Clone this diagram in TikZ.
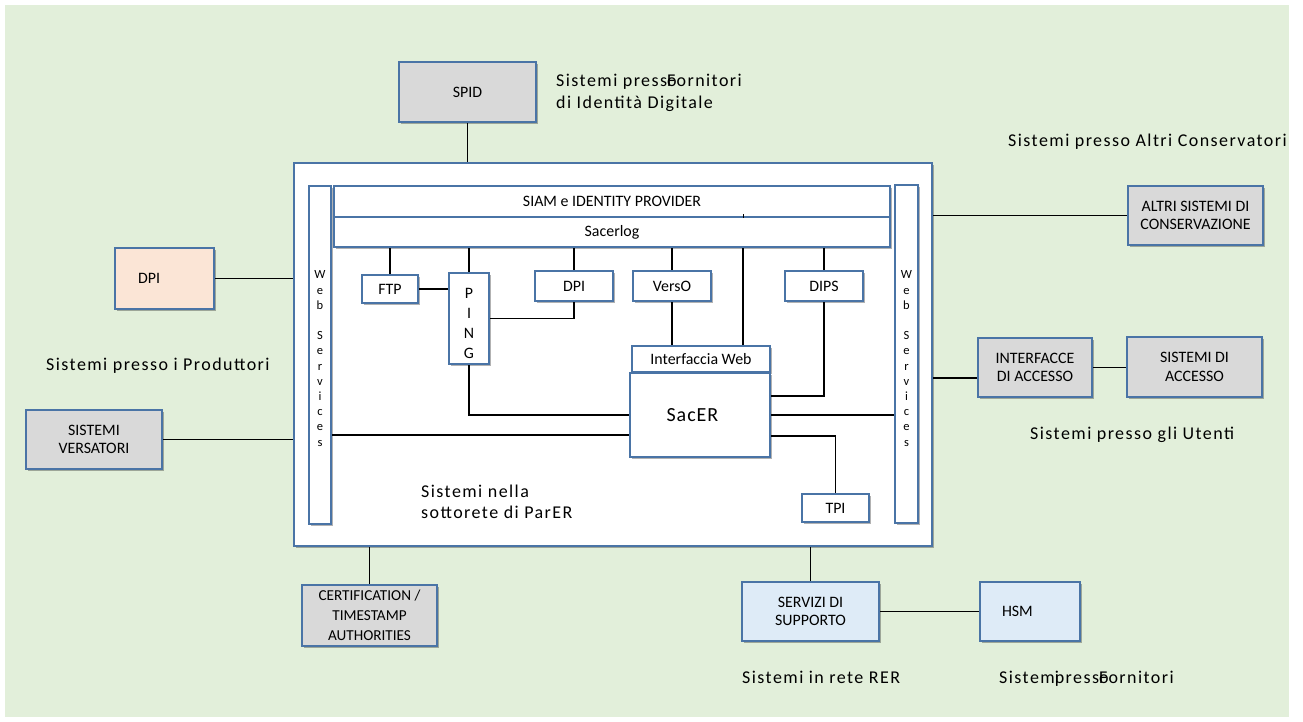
\documentclass[tikz,border=0pt]{standalone}
\usepackage{fontspec}
\setmainfont{Carlito}
\newfontfamily\trackfont[LetterSpace=8]{Carlito}
\newfontfamily\sacerfont[LetterSpace=5]{Carlito}
\usetikzlibrary{shadows,calc}
\definecolor{bggreen}{HTML}{E2EFDA}
\definecolor{bordblue}{HTML}{4A74A6}
\definecolor{boxgray}{HTML}{D9D9D9}
\definecolor{boxpeach}{HTML}{FBE5D6}
\definecolor{boxblue}{HTML}{DEEBF7}
\pgfdeclarelayer{bglayer}
\pgfdeclarelayer{linelayer}
\pgfsetlayers{bglayer,linelayer,main}
\begin{document}
\begin{tikzpicture}[x=1pt,y=-1pt,
  box/.style={draw=bordblue, line width=1.9pt, fill=white, inner sep=0pt, align=center,
    font=\fontsize{15.9}{18.5}\selectfont,
    drop shadow={shadow xshift=2pt, shadow yshift=-2.2pt, opacity=0.3, fill=black}},
  conn/.style={draw=black, line width=1.5pt},
  lbl/.style={anchor=base west, inner sep=0pt, font=\trackfont\fontsize{18}{21.5}\selectfont},
  stack/.style={inner sep=0pt, align=center}
]
\useasboundingbox (0,0) rectangle (1303,722);
\begin{pgfonlayer}{bglayer}
\fill[white] (0,0) rectangle (1303,722);
\fill[bggreen] (5,5) rectangle (1289,717);
\node[box, minimum width=638pt, minimum height=383pt] (main) at (613,354.5) {};
\end{pgfonlayer}

% inner boxes
\node[box, minimum width=22pt, minimum height=338pt] (wsl) at (320,355) {};
\node[box, minimum width=23pt, minimum height=338pt] (wsr) at (906.5,354) {};
\node[stack, font=\fontsize{12.5}{15.2}\selectfont] (wsltxt) at (320,358.5) {W\\e\\b\\[15.2pt]S\\e\\r\\v\\i\\c\\e\\s};
\node[stack, font=\fontsize{12.5}{15.2}\selectfont] (wsrtxt) at (906.5,358.5) {W\\e\\b\\[15.2pt]S\\e\\r\\v\\i\\c\\e\\s};
\node[box, minimum width=556pt, minimum height=31pt] (siam) at (612,201.5) {SIAM e IDENTITY PROVIDER};
\node[box, minimum width=556pt, minimum height=30pt] (sacerlog) at (612,232) {Sacerlog};
\node[box, minimum width=56pt, minimum height=28pt] (ftp) at (390,289) {FTP};
\node[box, minimum width=40pt, minimum height=91pt] (ping) at (469,318.5) {};
\node[stack, font=\fontsize{15.9}{19.7}\selectfont] (pingtxt) at (469,323.5) {P\\I\\N\\G};
\node[box, minimum width=78pt, minimum height=30pt] (dpiin) at (574,286) {DPI};
\node[box, minimum width=78pt, minimum height=30pt] (verso) at (672,286) {VersO};
\node[box, minimum width=78pt, minimum height=30pt] (dips) at (824,286) {DIPS};
\node[box, minimum width=138pt, minimum height=26pt] (iweb) at (701,359) {Interfaccia Web};
\node[box, minimum width=140pt, minimum height=84pt, font=\sacerfont\fontsize{20}{24}\selectfont] (sacer) at (700,415) {\makebox[67pt][l]{SacER}};
\node[box, minimum width=67pt, minimum height=28pt] (tpi) at (835.5,508) {TPI};

% outer boxes
\node[box, fill=boxgray, minimum width=137pt, minimum height=60pt] (spid) at (467.5,92) {SPID};
\node[box, fill=boxpeach, minimum width=99pt, minimum height=61pt] (dpiout) at (164.5,278.5) {\makebox[53pt][l]{DPI}};
\node[box, fill=boxgray, minimum width=136pt, minimum height=59pt] (vers) at (94,439.5) {SISTEMI\\VERSATORI};
\node[box, fill=boxgray, minimum width=135pt, minimum height=59pt] (altri) at (1195.5,215.5) {ALTRI SISTEMI DI\\CONSERVAZIONE};
\node[box, fill=boxgray, minimum width=114pt, minimum height=59pt] (interf) at (1035,367.5) {INTERFACCE\\DI ACCESSO};
\node[box, fill=boxgray, minimum width=135pt, minimum height=60pt] (sacc) at (1194.5,367) {SISTEMI DI\\ACCESSO};
\node[box, fill=boxgray, minimum width=135pt, minimum height=61pt, font=\fontsize{15.2}{20}\selectfont] (cert) at (369.5,615.5) {CERTIFICATION /\\TIMESTAMP\\AUTHORITIES};
\node[box, fill=boxblue, minimum width=137pt, minimum height=59pt] (serv) at (810.5,611.5) {SERVIZI DI\\SUPPORTO};
\node[box, fill=boxblue, minimum width=100pt, minimum height=59pt] (hsm) at (1030,611.5) {\makebox[56pt][l]{HSM}};

% labels
\node[lbl] (lspid) at (556,87) {\begin{tabular}[t]{@{}l@{}}Sistemi press\rlap{o}Fornitori\\di Identità Digitale\end{tabular}};
\node[lbl] (laltri) at (1008,147) {Sistemi presso Altri Conservatori};
\node[lbl] (lprod) at (46,370) {Sistemi presso i Produttori};
\node[lbl] (luten) at (1030,439) {Sistemi presso gli Utenti};
\node[lbl] (lparer) at (421,497) {\begin{tabular}[t]{@{}l@{}}Sistemi nella\\sottorete di ParER\end{tabular}};
\node[lbl] (lrer) at (742,683) {Sistemi in rete RER};
\node[lbl] (lforn) at (999,683) {Sistem\rlap{i}press\rlap{o}Fornitori};

% connectors
\coordinate (iw) at ([xshift=42pt]iweb.north);
\coordinate (ia) at ([yshift=-10.5pt]interf.west);
\coordinate (sw2) at ([yshift=-20pt]sacer.west);
\coordinate (se1) at ([yshift=19pt]sacer.east);
\coordinate (se3) at ([yshift=-21pt]sacer.east);
\begin{pgfonlayer}{linelayer}
\draw[conn] (spid.south) -- (spid.south |- main.north);
\draw[conn] (dpiout.east) -- (dpiout.east -| main.west);
\draw[conn] (vers.east) -- (vers.east -| main.west);
\draw[conn] (altri.west) -- (altri.west -| main.east);
\draw[conn] (ia) -- (ia -| main.east);
\draw[conn] (interf.east) -- (interf.east -| sacc.west);
\draw[conn] (cert.north) -- (cert.north |- main.south);
\draw[conn] (serv.north) -- (serv.north |- main.south);
\draw[conn] (serv.east) -- (serv.east -| hsm.west);
\draw[conn] (ftp.north) -- (ftp.north |- sacerlog.south);
\draw[conn] (ping.north) -- (ping.north |- sacerlog.south);
\draw[conn] (dpiin.north) -- (dpiin.north |- sacerlog.south);
\draw[conn] (verso.north) -- (verso.north |- sacerlog.south);
\draw[conn] (dips.north) -- (dips.north |- sacerlog.south);
\draw[conn] (ftp.east) -- (ftp.east -| ping.west);
\draw[conn] (ping.east) -| (dpiin.south);
\draw[conn] (verso.south) -- (verso.south |- iweb.north);
\draw[conn] (iw) -- (iw |- sacerlog.south);
\draw[conn] (ping.south) |- (sacer.west);
\draw[conn] (sw2) -- (sw2 -| wsl.east);
\draw[conn] (dips.south) |- (se1);
\draw[conn] (sacer.east) -- (sacer.east -| wsr.west);
\draw[conn] (se3) -| (tpi.north);
\end{pgfonlayer}
\coordinate (tk) at ([yshift=4pt]siam.south);
\draw[conn, line width=1pt] (iw |- siam.south) -- (iw |- tk);
\end{tikzpicture}
\end{document}
